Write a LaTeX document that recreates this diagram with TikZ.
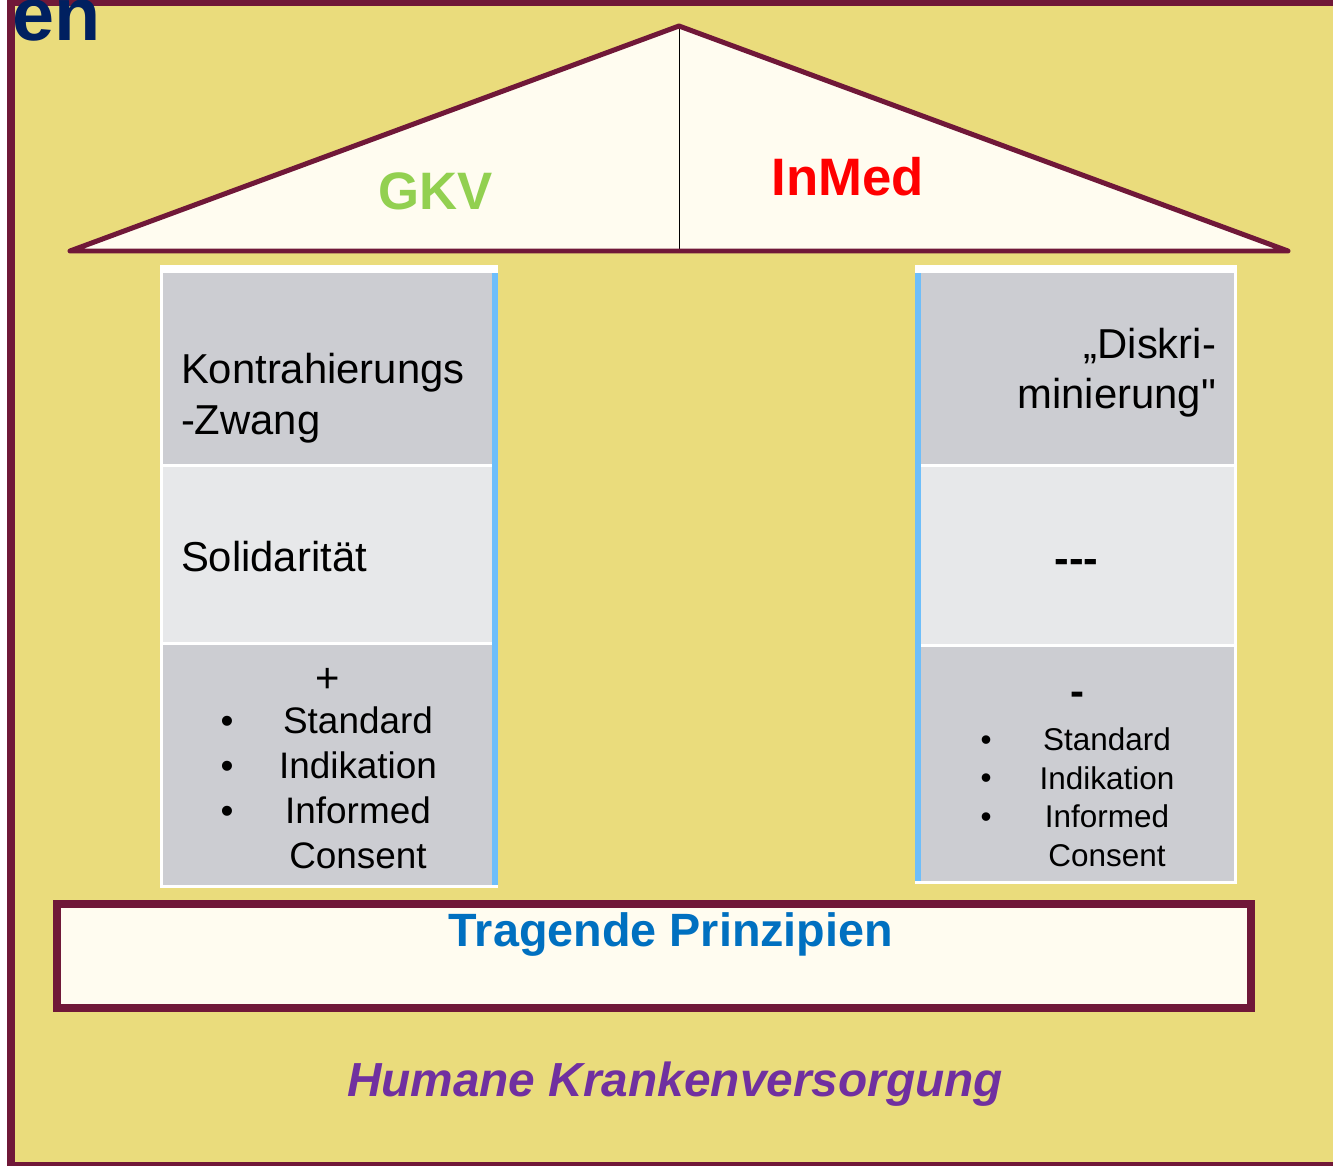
\documentclass[tikz,border=0pt]{standalone}
\usepackage{fontspec}
\setmainfont{Liberation Sans}[Ligatures=TeXOff]
\usetikzlibrary{positioning}

\definecolor{wall}{RGB}{234,220,124}
\definecolor{beam}{RGB}{112,24,56}
\definecolor{paper}{RGB}{255,252,240}
\definecolor{cellA}{RGB}{204,205,210}
\definecolor{cellB}{RGB}{231,232,234}
\definecolor{edge}{RGB}{110,190,250}
\definecolor{navy}{RGB}{0,32,96}
\definecolor{gkvgreen}{RGB}{146,208,80}
\definecolor{titleblue}{RGB}{0,112,192}
\definecolor{humane}{RGB}{112,48,160}

\newcommand{\sz}[2]{\fontsize{#1}{#2}\selectfont}

\begin{document}
\begin{tikzpicture}[x=0.02cm,y=-0.02cm,
    lbl/.style={inner sep=0pt,outer sep=0pt},
    big/.style={lbl,font=\sz{23.8pt}{28.9pt}},
    itemsL/.style={lbl,align=center,font=\sz{21pt}{25.5pt}},
    itemsR/.style={lbl,align=center,font=\sz{17.9pt}{21.9pt}},
    roofline/.style={draw=beam,line width=0.1cm,line join=round},
    beamline/.style={draw=beam,line width=0.16cm}]

  \useasboundingbox (0,0) rectangle (1333,1166);
  \clip (0,0) rectangle (1333,1166);

  % wall
  \fill[white] (0,0) rectangle (1333,1166);
  \draw[beamline,fill=wall] (11,2) rectangle (1360,1166);
  \node[lbl,anchor=base west,text=navy,font=\sz{43pt}{43pt}\bfseries] (title) at (12,41) {en};

  % roof
  \coordinate (apex) at (679,26);
  \coordinate (eaveL) at (70,251);
  \coordinate (eaveR) at (1288,251);
  \coordinate (ridge) at (679,251);
  \fill[paper] (eaveL) -- (apex) -- (eaveR) -- cycle;
  \draw[line width=0.02cm] (apex) -- (ridge);
  \draw[roofline] (eaveL) -- (apex) -- (eaveR) -- cycle;
  \node[lbl,anchor=base,text=gkvgreen,font=\sz{30pt}{30pt}\bfseries] (gkv) at (436,210) {GKV};
  \node[lbl,anchor=base,text=red,font=\sz{30pt}{30pt}\bfseries] (inmed) at (848,195) {InMed};

  % left pillar
  \fill[white] (160,265) rectangle (498,888);
  \fill[cellA] (163,273) rectangle (492,464);
  \fill[cellB] (163,467) rectangle (492,642);
  \fill[cellA] (163,645) rectangle (492,885);
  \fill[edge] (492,273) rectangle (497.5,885);

  \node[big,anchor=base west,align=left] (kontra) at (181,434) {Kontrahierungs\\-Zwang};
  \node[big,anchor=base west] (soli) at (181,571) {Solidarität};
  \node[big,anchor=base] (plus) at (328,692) {+};
  \node[itemsL,anchor=base] (listL) at (358,868) {Standard\\Indikation\\Informed\\Consent};
  \node[itemsL,anchor=base] (dotsL) at (227,823) {•\\•\\•};

  % right pillar
  \fill[white] (915,265) rectangle (1237,884);
  \fill[cellA] (921,273) rectangle (1234,464);
  \fill[cellB] (921,467) rectangle (1234,644);
  \fill[cellA] (921,647) rectangle (1234,881);
  \fill[edge] (915,273) rectangle (921,881);

  \node[big,anchor=base east,align=right,font=\sz{23.8pt}{28.3pt}] (diskri) at (1216,408)
    {„Diskri-\\minierung"};
  \node[lbl,anchor=base,font=\sz{25pt}{25pt}\bfseries] (none) at (1076.5,573) {---};
  \node[big,anchor=base,font=\sz{23.8pt}{28.9pt}\bfseries] (minus) at (1077,705) {-};
  \node[itemsR,anchor=base] (listR) at (1107,866) {Standard\\Indikation\\Informed\\Consent};
  \node[itemsR,anchor=base] (dotsR) at (986,827) {•\\•\\•};

  % base
  \draw[beamline,fill=paper] (57,904) rectangle (1251,1008);
  \node[lbl,anchor=base,text=titleblue,font=\sz{26.6pt}{26.6pt}\bfseries] (base) at (671,946)
    {Tragende Prinzipien};
  \node[lbl,anchor=base,text=humane,font=\sz{27.2pt}{27.2pt}\bfseries\itshape] (ground) at (675,1096)
    {Humane Krankenversorgung};
\end{tikzpicture}
\end{document}
